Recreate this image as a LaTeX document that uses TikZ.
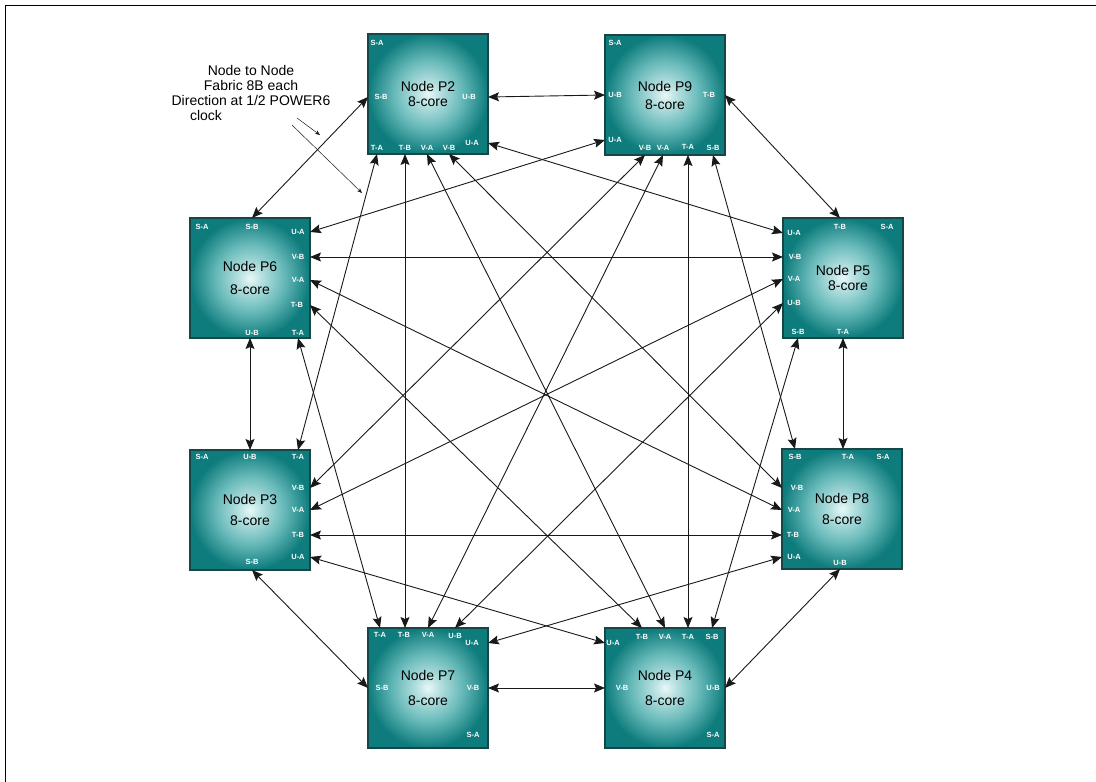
\documentclass[tikz,border=0pt]{standalone}
\usepackage{fontspec}
\setmainfont{Liberation Sans}
\usepackage{tikz}
\usetikzlibrary{arrows.meta}
\definecolor{boxteal}{RGB}{14,124,124}
\definecolor{boxmid}{RGB}{105,186,186}
\definecolor{boxlight}{RGB}{232,248,248}
\definecolor{boxedge}{RGB}{22,70,70}
\definecolor{linkgray}{RGB}{25,25,25}
\pgfdeclareradialshading{cpushade}{\pgfpoint{0bp}{0bp}}{color(0bp)=(boxlight); color(5bp)=(boxlight!60!boxmid); color(14bp)=(boxmid); color(25bp)=(boxteal); color(50bp)=(boxteal)}

\begin{document}
\begin{tikzpicture}[
    x=1pt, y=-1pt,
    cpu/.style={rectangle, draw=boxedge, line width=1.2pt, shading=cpushade, minimum width=120pt, minimum height=120pt, align=center, font=\fontsize{14}{15}\selectfont},
    port/.style={text=white, font=\fontsize{7.5}{8}\selectfont\bfseries, inner sep=0pt},
    link/.style={{Stealth[length=11pt, width=9pt, inset=2pt]}-{Stealth[length=11pt, width=9pt, inset=2pt]}, line width=0.9pt, linkgray},
    note/.style={-{Stealth[length=5pt, width=4pt]}, line width=0.5pt, linkgray}
]
\useasboundingbox (0,0) rectangle (1096,782);

% Frame
\draw[line width=1pt] (1096,5) -- (5,5) -- (5,782);

% Nodes
\node[cpu] (P2) at (428,94) {Node P2\\8-core};
\node[cpu] (P9) at (665,95) {Node P9\\[3pt]8-core};
\node[cpu] (P6) at (250,278) {Node P6\\[8pt]8-core};
\node[cpu] (P5) at (843,278) {Node P5\\\hspace*{10pt}8-core};
\node[cpu] (P3) at (250,510) {Node P3\\[6pt]8-core};
\node[cpu] (P8) at (842,509) {Node P8\\[6pt]8-core};
\node[cpu] (P7) at (428,688) {Node P7\\[10pt]8-core};
\node[cpu] (P4) at (665,688) {Node P4\\[10pt]8-core};

% Unused S-A ports
\foreach \n/\x/\y in {P2/377/43, P9/615/43, P6/202/227, P5/887/227, P3/202/457, P8/883/457, P7/473/735, P4/713/735} {
    \node[port] (\n-SA) at (\x,\y) {S-A};
}

% Ports: name / label / border point / label centre
\foreach \n/\t/\cx/\cy/\lx/\ly in {
    P2-SB/S-B/368/97/381/97, P2-UB/U-B/488/97/469/97, P2-UA/U-A/488/143/472/143,
    P2-TA/T-A/377/154/377/148, P2-TB/T-B/405/154/405/148, P2-VA/V-A/427/154/427/148, P2-VB/V-B/449/154/449/148,
    P9-UB/U-B/605/95/615/95, P9-TB/T-B/725/95/709/95, P9-UA/U-A/605/140/615/140,
    P9-VB/V-B/645/155/645/148, P9-VA/V-A/663/155/663/148, P9-TA/T-A/688/155/688/147, P9-SB/S-B/713/155/713/148,
    P6-SB/S-B/252/218/252/227, P6-UA/U-A/310/232/298/232, P6-VB/V-B/310/257/298/257,
    P6-VA/V-A/310/280/298/280, P6-TB/T-B/310/305/297/305, P6-UB/U-B/250/338/252/333, P6-TA/T-A/298/338/298/333,
    P5-UA/U-A/783/233/794/233, P5-TB/T-B/840/218/840/227, P5-VB/V-B/783/257/795/257,
    P5-VA/V-A/783/279/794/279, P5-UB/U-B/783/303/794/303, P5-SB/S-B/798/338/798/332, P5-TA/T-A/843/338/843/332,
    P3-UB/U-B/250/450/250/457, P3-TA/T-A/298/450/298/457, P3-VB/V-B/310/488/298/488,
    P3-VA/V-A/310/510/298/510, P3-TB/T-B/310/535/298/535, P3-UA/U-A/310/557/298/557, P3-SB/S-B/252/570/252/562,
    P8-SB/S-B/795/449/795/457, P8-TA/T-A/843/449/848/457, P8-VB/V-B/782/488/797/488,
    P8-VA/V-A/782/510/794/510, P8-TB/T-B/782/535/793/535, P8-UA/U-A/782/557/794/557, P8-UB/U-B/840/569/840/563,
    P7-TA/T-A/380/628/380/635, P7-TB/T-B/405/628/404/635, P7-VA/V-A/428/628/428/635, P7-UB/U-B/455/628/455/636,
    P7-UA/U-A/488/643/472/643, P7-SB/S-B/368/688/382/688, P7-VB/V-B/488/688/473/688,
    P4-UA/U-A/605/643/613/643, P4-TB/T-B/642/628/642/637, P4-VA/V-A/665/628/665/637, P4-TA/T-A/688/628/688/637,
    P4-SB/S-B/712/628/712/637, P4-VB/V-B/605/688/622/688, P4-UB/U-B/725/688/713/688} {
    \coordinate (\n) at (\cx,\cy);
    \node[port] (\n-l) at (\lx,\ly) {\t};
}

% Fabric links
\foreach \a/\b in {P2-UB/P9-UB, P2-SB/P6-SB, P9-TB/P5-TB, P6-UB/P3-UB, P5-TA/P8-TA, P3-SB/P7-SB, P8-UB/P4-UB, P7-VB/P4-VB,
    P6-VB/P5-VB, P3-TB/P8-TB, P2-TB/P7-TB, P9-TA/P4-TA,
    P2-UA/P5-UA, P9-UA/P6-UA, P3-UA/P4-UA, P8-UA/P7-UA,
    P2-TA/P3-TA, P6-TA/P7-TA, P9-SB/P8-SB, P5-SB/P4-SB,
    P2-VA/P4-VA, P2-VB/P8-VB, P9-VB/P3-VB, P9-VA/P7-VA,
    P6-VA/P8-VA, P6-TB/P4-TB, P5-VA/P3-VA, P5-UB/P7-UB} {
    \draw[link] (\a) -- (\b);
}

% Annotation
\node[font=\fontsize{14}{15}\selectfont, align=center] (fabric) at (251,93) {Node to Node\\Fabric 8B each\\Direction at 1/2 POWER6\\clock\hspace*{90pt}};
\coordinate (tip1) at (297,118);
\coordinate (end1) at (320,135);
\coordinate (tip2) at (292,125);
\coordinate (end2) at (362,193);
\draw[note] (tip1) -- (end1);
\draw[note] (tip2) -- (end2);

\end{tikzpicture}
\end{document}
